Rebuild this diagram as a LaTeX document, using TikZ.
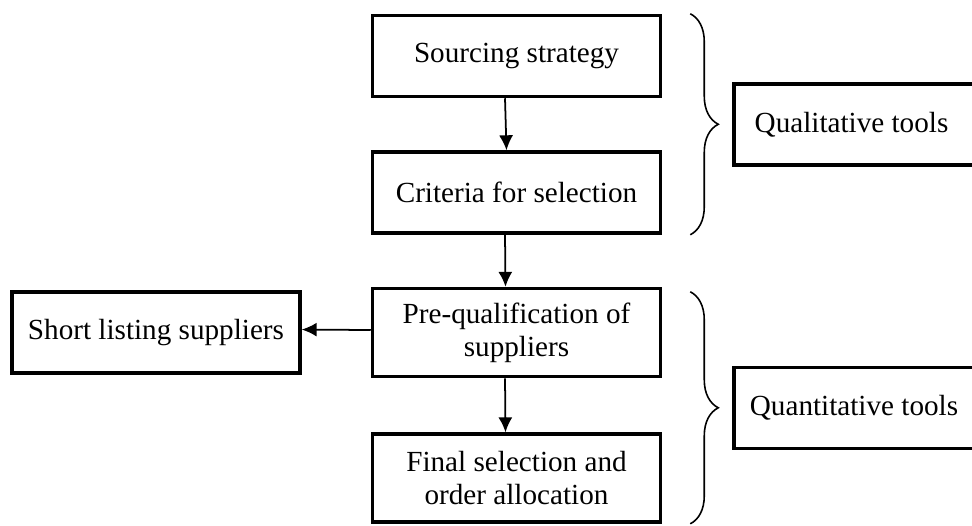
\documentclass[tikz,border=0pt]{standalone}
\usepackage{fontspec}
\setmainfont{Liberation Serif}
\usepackage{tikz}
\usetikzlibrary{arrows.meta, positioning, calc, decorations.pathreplacing}
\tikzstyle{stage} = [rectangle, minimum width=5.76cm, minimum height=1.62cm, text centered, align=center, draw=black, line width=2pt, font=\fontsize{16.6}{18.8}\selectfont]
\tikzstyle{tool} = [stage, minimum width=5.4cm, anchor=west]
\tikzstyle{arrow} = [line width=1pt,-{Latex[length=8.5pt,width=8pt]}]
\tikzstyle{group} = [line width=0.9pt, decorate, decoration={brace, amplitude=0.56cm}]

\begin{document}
\begin{tikzpicture}

\useasboundingbox (0,0) rectangle (19.44,10.5);
\clip (0,0) rectangle (19.44,10.5);

\node (src) [stage] at (10.33,9.38) {Sourcing strategy};
\node (crit) [stage, below=1.04cm of src] {Criteria for selection};
\node (preq) [stage, minimum height=1.76cm, below=1.04cm of crit] {Pre-qualification of\\suppliers};
\node (final) [stage, minimum height=1.76cm, below=1.08cm of preq] {Final selection and\\order allocation};
\node (short) [stage, left=1.38cm of preq] {Short listing suppliers};

% tools on the right, cut by the page edge
\node (qual) [tool] at ($(src.east)!0.5!(crit.east)+(1.4,0)$) {\hspace*{-0.7cm}Qualitative tools};
\node (quant) [tool] at ($(preq.east)!0.5!(final.east)+(1.4,-0.05)$) {\hspace*{-0.6cm}Quantitative tools};

\draw [arrow] ([xshift=-0.23cm]src.south) -- ([xshift=-0.2cm]crit.north);
\draw [arrow] ([xshift=-0.23cm]crit.south) -- ([xshift=-0.22cm]preq.north);
\draw [arrow] ([xshift=-0.23cm]preq.south) -- ([xshift=-0.22cm]final.north);
\draw [arrow] ([yshift=0.05cm]preq.west) -- ([yshift=0.06cm]short.east);

\draw [group] ([xshift=0.56cm]src.north east) -- ([xshift=0.56cm]crit.south east);
\draw [group] ([xshift=0.56cm,yshift=-0.1cm]preq.north east) -- ([xshift=0.56cm]final.south east);

\end{tikzpicture}
\end{document}
